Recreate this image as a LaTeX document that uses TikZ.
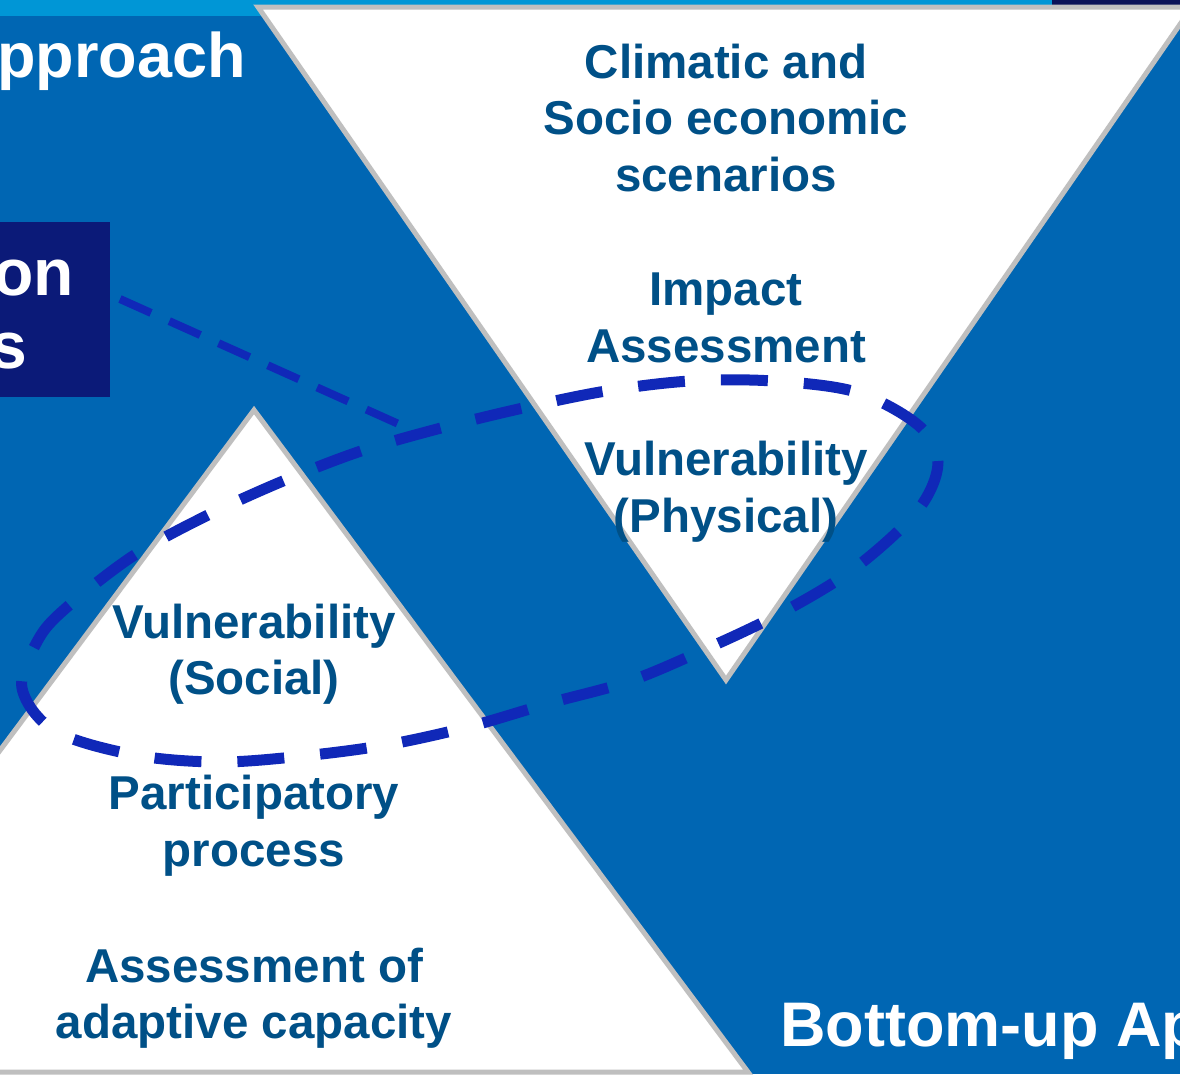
\documentclass[tikz,border=0pt]{standalone}
\usepackage{fontspec}
\setmainfont{Liberation Sans}
\begin{document}
\definecolor{bgblue}{HTML}{0066B3}
\definecolor{stripblue}{HTML}{0096D6}
\definecolor{topnavy}{HTML}{0A1258}
\definecolor{boxnavy}{HTML}{0B1A78}
\definecolor{edgegray}{HTML}{BFBFBF}
\definecolor{txtblue}{HTML}{005087}
\definecolor{loopblue}{HTML}{1028B8}
\begin{tikzpicture}[x=1pt,y=-1pt,
  panel/.style={fill=white,draw=edgegray,line width=5pt,line join=miter},
  tritext/.style={text=txtblue,font=\fontsize{47.5}{57}\selectfont\bfseries,inner sep=0pt},
  headtext/.style={text=white,font=\fontsize{63}{70}\selectfont\bfseries,inner sep=0pt},
  boxtext/.style={text=white,font=\fontsize{66}{72}\selectfont\bfseries,inner sep=0pt},
  navybox/.style={fill=boxnavy,draw=none,inner sep=0pt,minimum width=110pt,minimum height=175pt},
  loopline/.style={draw=loopblue,line width=11pt,dash pattern=on 47pt off 36pt},
  linkline/.style={draw=loopblue,line width=8pt,dash pattern=on 34pt off 20pt}]
\useasboundingbox (0,0) rectangle (1180,1074);
\clip (0,0) rectangle (1180,1074);

% background and header strip
\fill[bgblue] (0,0) rectangle (1180,1074);
\fill[stripblue] (0,0) rectangle (1052,16);
\fill[topnavy] (1052,0) rectangle (1180,16);

% top-down (inverted) and bottom-up (upright) triangles
\draw[panel] (258,7) -- (1192,7) -- (726,680) -- cycle;
\draw[panel] (254,410) -- (748,1072) -- (-240,1072) -- cycle;

% side box
\node[navybox,anchor=north west] (box) at (0,222) {};
\node[boxtext,anchor=base east] (boxon) at (74,295) {on};
\node[boxtext,anchor=base east] (boxs) at (27,368) {s};

% headings
\node[headtext,anchor=base east] (toph) at (246,77) {pproach};
\node[headtext,anchor=base west] (both) at (780,1046) {Bottom-up Ap};

% labels in the inverted triangle
\node[tritext,anchor=base] (c1) at (726,78) {Climatic and};
\node[tritext,anchor=base] (c2) at (726,134.5) {Socio economic};
\node[tritext,anchor=base] (c3) at (726,191) {scenarios};
\node[tritext,anchor=base] (i1) at (726,305) {Impact};
\node[tritext,anchor=base] (i2) at (726,362) {Assessment};
\node[tritext,anchor=base] (p1) at (726,475) {Vulnerability};
\node[tritext,anchor=base] (p2) at (726,532) {(Physical)};

% labels in the upright triangle
\node[tritext,anchor=base] (s1) at (254,638) {Vulnerability};
\node[tritext,anchor=base] (s2) at (254,694.5) {(Social)};
\node[tritext,anchor=base] (q1) at (254,809) {Participatory};
\node[tritext,anchor=base] (q2) at (254,866.5) {process};
\node[tritext,anchor=base] (a1) at (254,982) {Assessment of};
\node[tritext,anchor=base] (a2) at (254,1038) {adaptive capacity};

% dashed loop around both vulnerability labels
\draw[loopline] plot[smooth cycle,tension=0.55] coordinates {
  (22,688) (38,640) (66,608) (133,556) (206,516) (283,481) (361,451)
  (441,428) (523,408) (606,391) (690,381) (773,381) (856,392) (918,425)
  (938,462) (918,510) (855,568) (783,612) (708,648) (630,681) (550,703)
  (468,727) (386,745) (303,756) (219,762) (135,755) (55,731)};

% dashed link from the box to the loop
\coordinate (linkstart) at (120,299);
\coordinate (linkend) at (412,430);
\draw[linkline] (linkstart) -- (linkend);
\end{tikzpicture}
\end{document}
